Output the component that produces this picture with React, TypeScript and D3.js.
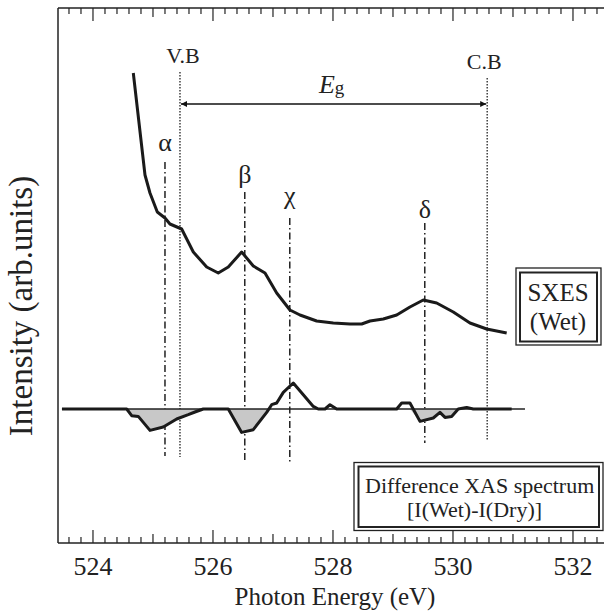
import React from "react";
import * as d3 from "d3";

// SXES (Wet) spectrum, energy in eV / intensity in arb. units
const sxesEnergy = [524.672, 524.867, 524.95, 525.072, 525.2, 525.283, 525.478, 525.672, 525.895, 526.088, 526.255, 526.478, 526.672, 526.867, 527.062, 527.283, 527.45, 527.728, 528.005, 528.283, 528.478, 528.617, 528.838, 529.062, 529.283, 529.505, 529.728, 530.005, 530.283, 530.562, 530.895];
const sxesIntensity = [33.6, 23.4, 21.6, 19.7, 19.1, 18.5, 18.0, 15.7, 14.2, 13.6, 14.2, 15.7, 14.3, 13.6, 11.6, 9.9, 9.4, 8.8, 8.6, 8.5, 8.5, 8.8, 9.0, 9.4, 10.2, 10.9, 10.6, 9.7, 8.6, 8.0, 7.6];

// difference XAS spectrum I(Wet)-I(Dry)
const diffEnergy = [523.483, 524.562, 524.645, 524.755, 524.95, 525.172, 525.395, 525.588, 525.7, 525.838, 526.255, 526.478, 526.672, 526.895, 526.978, 527.062, 527.172, 527.338, 527.672, 527.755, 527.867, 527.95, 528.062, 529.062, 529.145, 529.283, 529.45, 529.672, 529.783, 529.867, 529.978, 530.088, 530.228, 530.338, 530.978];
const diffValue = [0, 0, -0.67, -0.74, -2.14, -1.8, -1.0, -0.57, -0.3, 0, 0, -2.34, -2.07, -0.34, 0.43, 0.6, 1.66, 2.6, 0.26, 0, 0, 0.43, 0, 0, 0.6, 0.6, -1.24, -0.9, -0.34, -0.84, -0.74, 0, 0.16, 0, 0];
const baselineRange = [523.483, 531.2];

// band edges and peak markers
const vbEnergy = 525.45;
const cbEnergy = 530.57;
const peakNames = ["α", "β", "χ", "δ"];
const peakEnergy = [525.2, 526.53, 527.28, 529.53];

const majorTicks = [524, 526, 528, 530, 532];

const W = 604;
const H = 612;
const font = "Liberation Serif, Tinos, Times New Roman, Times, DejaVu Serif, serif";

const App = () => {
  const x = d3.scaleLinear().domain([523.417, 532.517]).range([58, 604]);
  const y = d3.scaleLinear().domain([-13.4, 40.1]).range([543, 8]);
  const top = y.range()[1];
  const bottom = y.range()[0];

  const sxes = sxesEnergy.map((e, i) => [e, sxesIntensity[i]]);
  const diff = diffEnergy.map((e, i) => [e, diffValue[i]]);

  const line = d3
    .line()
    .x((d) => x(d[0]))
    .y((d) => y(d[1]));
  const negArea = d3
    .area()
    .x((d) => x(d[0]))
    .y0(y(0))
    .y1((d) => y(Math.min(d[1], 0)));

  // 0.2 eV minor ticks
  const allTicks = d3.range(5236, 5326, 2).map((v) => v / 10);
  const tickLen = (v) => {
    const r = Math.round(v * 10);
    if (r % 20 === 0) return 13;
    if (r % 10 === 0) return 9;
    return 6;
  };

  // marker line extents and label baselines (pixel y)
  const peakTop = [162, 192, 218, 223];
  const peakBottom = [456, 463, 462, 443];
  const peakLabelY = [151, 183, 204, 218];

  const arrowY = 104;
  const txt = { fontFamily: font, fill: "#222" };

  return (
    <div style={{ position: "absolute", left: 0, top: 0 }}>
      <svg width={W} height={H} style={{ display: "block", background: "#fff", fontFamily: font }}>
        <defs>
          <marker id="ah" viewBox="0 0 10 10" refX="10" refY="5" markerWidth="15" markerHeight="6" markerUnits="userSpaceOnUse" orient="auto-start-reverse">
            <path d="M0,0 L10,5 L0,10 z" fill="#111" />
          </marker>
        </defs>

        {/* frame */}
        <g stroke="#222" strokeWidth={1.5} fill="none">
          <line x1={58} x2={W} y1={top} y2={top} />
          <line x1={58} x2={W} y1={bottom} y2={bottom} />
          <line x1={58} x2={58} y1={top} y2={bottom} />
        </g>
        <g stroke="#222" strokeWidth={1.2}>
          {allTicks.map((v) => (
            <g key={v}>
              <line x1={x(v)} x2={x(v)} y1={top} y2={top + tickLen(v)} />
              <line x1={x(v)} x2={x(v)} y1={bottom} y2={bottom - tickLen(v)} />
            </g>
          ))}
        </g>
        <g style={{ ...txt, fontSize: 26 }} textAnchor="middle">
          {majorTicks.map((v) => (
            <text key={v} x={x(v)} y={575}>
              {v}
            </text>
          ))}
        </g>
        <text x={(58 + W) / 2 + 4} y={605} style={{ ...txt, fontSize: 25 }} textAnchor="middle">
          Photon Energy (eV)
        </text>
        <text transform="translate(32,306) rotate(-90)" style={{ ...txt, fontSize: 33 }} textAnchor="middle">
          Intensity (arb.units)
        </text>

        {/* V.B / C.B dotted lines */}
        <g stroke="#222" strokeWidth={1.3} strokeDasharray="1.5,1.5">
          <line x1={x(vbEnergy)} x2={x(vbEnergy)} y1={72} y2={457} />
          <line x1={x(cbEnergy)} x2={x(cbEnergy)} y1={78} y2={441} />
        </g>
        <g style={{ ...txt, fontSize: 22 }} textAnchor="middle">
          <text x={x(vbEnergy) + 3} y={63}>V.B</text>
          <text x={x(cbEnergy) - 3} y={69}>C.B</text>
        </g>
        <line x1={x(vbEnergy) + 1} x2={x(cbEnergy) - 1} y1={arrowY} y2={arrowY} stroke="#111" strokeWidth={1.5} markerStart="url(#ah)" markerEnd="url(#ah)" />
        <text x={(x(vbEnergy) + x(cbEnergy)) / 2 - 2} y={93} textAnchor="middle" style={txt}>
          <tspan fontStyle="italic" fontSize={26}>E</tspan>
          <tspan fontSize={19} dy={1}>g</tspan>
        </text>

        {/* peak markers */}
        <g stroke="#222" strokeWidth={1.5} strokeDasharray="7,3,1.5,3">
          {peakEnergy.map((e, i) => (
            <line key={i} x1={x(e)} x2={x(e)} y1={peakTop[i]} y2={peakBottom[i]} />
          ))}
        </g>
        <g style={{ ...txt, fontSize: 26 }} textAnchor="middle">
          {peakNames.map((n, i) => (
            <text key={n} x={x(peakEnergy[i])} y={peakLabelY[i]}>
              {n}
            </text>
          ))}
        </g>

        {/* difference spectrum */}
        <path d={negArea(diff)} fill="#c8c8c8" stroke="none" />
        <line x1={x(baselineRange[0])} x2={x(baselineRange[1])} y1={y(0)} y2={y(0)} stroke="#222" strokeWidth={1.5} />
        <path d={line(diff)} fill="none" stroke="#1a1a1a" strokeWidth={3} strokeLinejoin="round" />

        {/* SXES spectrum */}
        <path d={line(sxes)} fill="none" stroke="#1a1a1a" strokeWidth={3} strokeLinejoin="round" />

        {/* SXES legend box */}
        <g fill="none" stroke="#222">
          <rect x={516} y={268} width={85} height={77} strokeWidth={1.3} />
          <rect x={520} y={272.5} width={77} height={69} strokeWidth={2} />
        </g>
        <g style={{ ...txt, fontSize: 25 }} textAnchor="middle">
          <text x={558} y={301}>SXES</text>
          <text x={558} y={330}>(Wet)</text>
        </g>

        {/* difference legend box */}
        <g fill="none" stroke="#222">
          <rect x={354} y={462.5} width={249} height={68} strokeWidth={1.3} />
          <rect x={358.5} y={466.5} width={240.5} height={60.5} strokeWidth={2} />
        </g>
        <g style={{ ...txt, fontSize: 22 }}>
          <text x={365} y={493}>Difference XAS spectrum</text>
          <text x={407} y={517}>[I(Wet)-I(Dry)]</text>
        </g>
      </svg>
    </div>
  );
};

export default App;
